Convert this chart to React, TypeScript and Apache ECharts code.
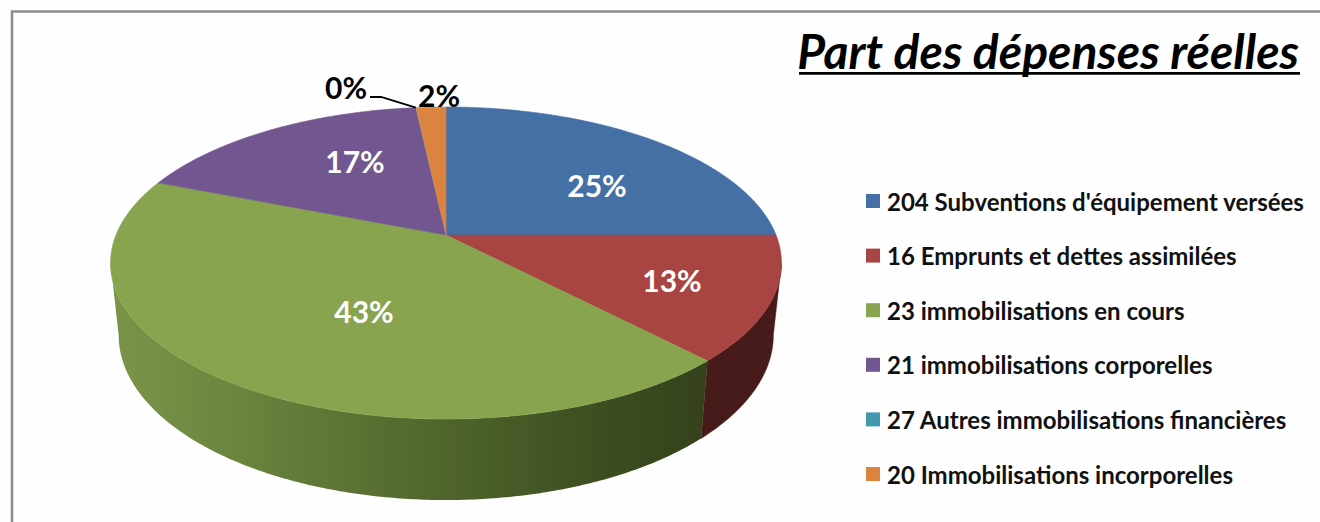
import React, { useEffect, useRef } from "react";
import * as echarts from "echarts";

const categories = [
  "204 Subventions d'équipement versées",
  "16 Emprunts et dettes assimilées",
  "23 immobilisations en cours",
  "21 immobilisations corporelles",
  "27 Autres immobilisations financières",
  "20 Immobilisations incorporelles",
];
const shares = [25.0, 12.9, 43.1, 17.27, 0.03, 1.7];
const sliceColors = ["#4470A6", "#A84442", "#88A44E", "#725690", "#4198AF", "#DB8440"];
const percentLabels = ["25%", "13%", "43%", "17%", "0%", "2%"];
const titleText = "Part des dépenses réelles";

const FONT = "Lato, Carlito, sans-serif";

// Projection of the pie discs (perspective view of a circle)
const TOP = { cx: 446, cy: 235, a: 330, b: 151, k: 0.1795 };
const BOTTOM = { cx: 446, cy: 305.4, a: 322, b: 159.6, k: 0.18 };
const project = (p: typeof TOP, angle: number, r = 1) => {
  const u = Math.sin(angle) * r;
  const v = -Math.cos(angle) * r;
  const d = 1 - p.k * v;
  return [p.cx + (p.a * u) / d, p.cy + (p.b * v) / d];
};

const total = shares.reduce((s, v) => s + v, 0);
const spans = shares.map((_, i) => {
  const before = shares.slice(0, i).reduce((s, v) => s + v, 0);
  return [(before / total) * Math.PI * 2, ((before + shares[i]) / total) * Math.PI * 2];
});

const arcAngles = (a0: number, a1: number) => {
  const n = Math.max(2, Math.ceil((a1 - a0) / 0.01));
  return Array.from({ length: n + 1 }, (_, i) => a0 + ((a1 - a0) * i) / n);
};

const labelAnchors = [
  { x: 597, y: 185, fill: "#fff" },
  { x: 672, y: 280, fill: "#fff" },
  { x: 364, y: 311, fill: "#fff" },
  { x: 355, y: 161, fill: "#fff" },
  { x: 346, y: 87, fill: "#000" },
  { x: 439, y: 95, fill: "#000" },
];

const wallFill: Record<number, any> = {
  1: "#471B19",
  2: new echarts.graphic.LinearGradient(
    113, 0, 705, 0,
    [
      { offset: 0, color: "#7A9549" },
      { offset: 0.2, color: "#6C853F" },
      { offset: 0.5, color: "#546A2E" },
      { offset: 0.8, color: "#3E4F21" },
      { offset: 1, color: "#35421C" },
    ],
    true
  ),
};

// Angles at which the rim is tangent to the silhouette of the disc.
const tangent = Math.acos(-TOP.k);

const wallSeries = {
  type: "custom",
  name: "parois",
  coordinateSystem: "none",
  silent: true,
  z: 1,
  data: [1, 2],
  renderItem: (_: any, api: any) => {
    const idx = api.value(0);
    const [a0, a1] = spans[idx];
    const lo = Math.max(a0, tangent);
    const hi = Math.min(a1, Math.PI * 2 - tangent);
    const angles = arcAngles(lo, hi);
    const pts = [
      ...angles.map((a) => project(TOP, a)),
      ...angles.slice().reverse().map((a) => project(BOTTOM, a)),
    ];
    return {
      type: "polygon",
      shape: { points: pts },
      style: { fill: wallFill[idx], stroke: idx === 1 ? "#471B19" : undefined, lineWidth: idx === 1 ? 0.5 : 0 },
    };
  },
};

const topSeries = categories.map((name, i) => ({
  type: "custom",
  name,
  coordinateSystem: "none",
  silent: true,
  z: 2 + i,
  itemStyle: { color: sliceColors[i] },
  data: [shares[i]],
  renderItem: () => {
    const pts = [[TOP.cx, TOP.cy], ...arcAngles(spans[i][0], spans[i][1]).map((a) => project(TOP, a))];
    const thin = shares[i] < 1;
    return {
      type: "polygon",
      shape: { points: pts },
      style: { fill: sliceColors[i], stroke: thin ? undefined : sliceColors[i], lineWidth: thin ? 0 : 0.6 },
    };
  },
}));

const labelSeries = {
  type: "custom",
  name: "étiquettes",
  coordinateSystem: "none",
  silent: true,
  z: 20,
  data: percentLabels.map((_, i) => i),
  renderItem: (_: any, api: any) => {
    const i = api.value(0);
    const a = labelAnchors[i];
    return {
      type: "text",
      style: {
        x: a.x,
        y: a.y,
        text: percentLabels[i],
        fill: a.fill,
        font: `bold 30px ${FONT}`,
        align: "center",
        verticalAlign: "middle",
      },
    };
  },
};

const leaderRim = project(TOP, (spans[4][0] + spans[4][1]) / 2);

export default function App() {
  const ref = useRef<HTMLDivElement>(null);
  useEffect(() => {
    const chart = echarts.init(ref.current!, null, { renderer: "svg", width: 1320, height: 522 });
    chart.setOption({
      animation: false,
      backgroundColor: "#FEFEFE",
      legend: {
        orient: "vertical",
        left: 861,
        top: 184,
        itemWidth: 14,
        itemHeight: 14,
        itemGap: 30.6,
        icon: "rect",
        selectedMode: false,
        data: categories,
        textStyle: {
          fontFamily: FONT,
          fontWeight: "bold",
          fontSize: 24,
          color: "#111",
          padding: [0, 0, 0, 2],
        },
      },
      graphic: [
        {
          type: "polyline",
          z: 30,
          shape: { points: [[12, 522], [12, 11.5], [1320, 11.5]] },
          style: { stroke: "#8C8C8C", lineWidth: 2.5, fill: "none" },
        },
        {
          type: "text",
          z: 30,
          style: {
            x: 1299,
            y: 26,
            text: titleText,
            fill: "#000",
            font: `italic bold 48px ${FONT}`,
            align: "right",
            verticalAlign: "top",
          },
        },
        {
          type: "rect",
          z: 30,
          shape: { x: 799, y: 72, width: 501, height: 2.8 },
          style: { fill: "#000" },
        },
        {
          type: "polyline",
          z: 30,
          shape: { points: [[370, 97], [381, 97], leaderRim] },
          style: { stroke: "#000", lineWidth: 1.8, fill: "none" },
        },
      ],
      series: [wallSeries, ...topSeries, labelSeries],
    });
    return () => chart.dispose();
  }, []);
  return <div ref={ref} style={{ position: "absolute", left: 0, top: 0, width: 1320, height: 522 }} />;
}
